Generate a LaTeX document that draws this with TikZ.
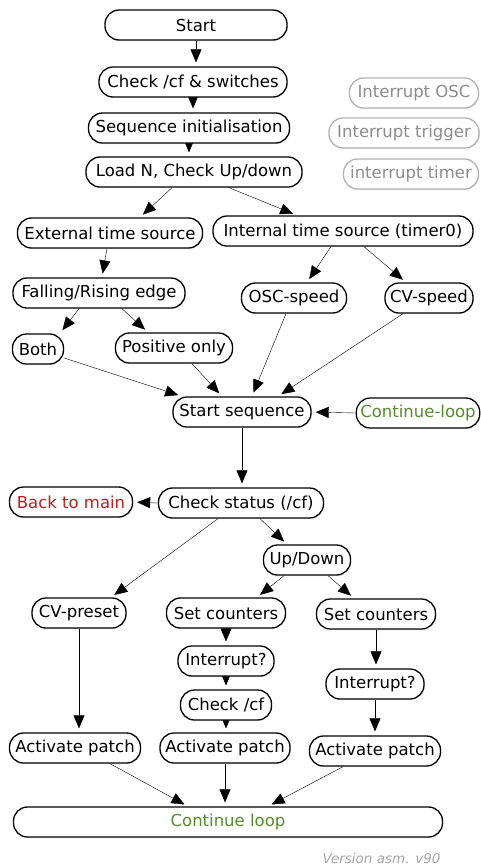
\documentclass[tikz,border=0pt]{standalone}
\usepackage{fontspec}
\setmainfont{DejaVu Sans}
\usetikzlibrary{arrows.meta, shadows, backgrounds}

\definecolor{loopgreen}{RGB}{86,140,46}
\definecolor{mainred}{RGB}{190,30,30}

\tikzset{
	blk/.style = {draw, line width=1.3pt, fill=white, rounded corners=14pt, minimum height=30pt, inner xsep=4pt,
		font=\fontsize{16.5}{18}\selectfont, drop shadow={opacity=0.12, shadow xshift=0.8pt, shadow yshift=-1.2pt}},
	irq/.style = {blk, draw=black!30, text=black!45},
	arr/.style = {-{Triangle[length=13pt, width=11pt]}, line width=1.5pt, shorten >=4pt},
}

\begin{document}
\begin{tikzpicture}[x=1pt, y=-1pt]
			\useasboundingbox (0,0) rectangle (481,868);
			
			\node[blk, minimum width=182pt] (start) at (196,25) {Start};
			\node[blk, minimum width=188pt] (chk) at (193,82) {Check /cf \& switches};
			\node[blk, minimum width=201pt] (init) at (189,128) {Sequence initialisation};
			\node[blk, minimum width=216pt] (loadn) at (194,172) {Load N, Check Up/down};
			
			\node[irq, minimum width=129pt] (iosc) at (414,93) {Interrupt OSC};
			\node[irq, minimum width=150pt] (itrig) at (404,133) {Interrupt trigger};
			\node[irq, minimum width=135pt] (itim) at (411,174) {interrupt timer};
			
			\node[blk, minimum width=185pt] (ext) at (110,233) {External time source};
			\node[blk, minimum width=260pt] (int) at (343,231) {Internal time source (timer0)};
			\node[blk, minimum width=172pt] (edge) at (99,293) {Falling/Rising edge};
			\node[blk, minimum width=105pt] (osc) at (294,298) {OSC-speed};
			\node[blk, minimum width=88pt] (cvs) at (429,298) {CV-speed};
			\node[blk, minimum width=51pt] (both) at (38,349) {Both};
			\node[blk, minimum width=117pt] (pos) at (174,348) {Positive only};
			
			\node[blk, minimum width=138pt] (seq) at (242,412) {Start sequence};
			\node[blk, minimum width=123pt, text=loopgreen] (cloop) at (418,413) {Continue-loop};
			
			\node[blk, minimum width=123pt, text=mainred] (back) at (71,502) {Back to main};
			\node[blk, minimum width=165pt] (stat) at (241,503) {Check status (/cf)};
			\node[blk, minimum width=87pt] (ud) at (307,560) {Up/Down};
			\node[blk, minimum width=94pt] (cvp) at (79,613) {CV-preset};
			\node[blk, minimum width=119pt] (setm) at (226,613) {Set counters};
			\node[blk, minimum width=119pt] (setr) at (376,614) {Set counters};
			\node[blk, minimum width=96pt] (intm) at (226,661) {Interrupt?};
			\node[blk, minimum width=91pt] (chkcf) at (226,705) {Check /cf};
			\node[blk, minimum width=98pt] (intr) at (375,684) {Interrupt?};
			\node[blk, minimum width=131pt] (actl) at (75,748) {Activate patch};
			\node[blk, minimum width=130pt] (actm) at (225,748) {Activate patch};
			\node[blk, minimum width=131pt] (actr) at (375,751) {Activate patch};
			\node[blk, minimum width=429pt, text=loopgreen] (cont) at (228,822) {Continue loop};
			
			\node[anchor=east, text=black!35, font=\fontsize{13.5}{15}\selectfont\itshape] (ver) at (444,858) {Version asm. v90};
			
			\begin{scope}[on background layer, arr]
				\draw (start.south) -- (start.south |- chk.north);
				\draw (chk.south) -- (chk.south |- init.north);
				\draw (init.south) -- (init.south |- loadn.north);
				\draw ([xshift=-22pt]loadn.south) -- ([xshift=30pt]ext.north);
				\draw ([xshift=35pt]loadn.south) -- ([xshift=-46pt]int.north);
				\draw ([xshift=-3pt]ext.south) -- ([xshift=3pt]edge.north);
				\draw ([xshift=-12pt]int.south) -- ([xshift=13pt]osc.north);
				\draw ([xshift=21pt]int.south) -- ([xshift=-23pt]cvs.north);
				\draw ([xshift=-20pt]edge.south) -- ([xshift=22pt]both.north);
				\draw ([xshift=23pt]edge.south) -- ([xshift=-26pt]pos.north);
				\draw ([yshift=-9pt]both.east) -- ([xshift=-60pt]seq.north);
				\draw ([xshift=18pt]pos.south) -- ([xshift=-20pt]seq.north);
				\draw ([xshift=-8pt]osc.south) -- ([xshift=10pt]seq.north);
				\draw ([xshift=-26pt]cvs.south) -- ([xshift=36pt]seq.north);
				\draw (cloop.west) -- (seq.east);
				\draw (seq.south) -- (seq.south |- stat.north);
				\draw (stat.west) -- (back.east);
				\draw ([xshift=19pt]stat.south) -- ([xshift=-20pt]ud.north);
				\draw ([xshift=-23pt]stat.south) -- ([xshift=32pt]cvp.north);
				\draw ([xshift=-23pt]ud.south) -- ([xshift=31pt]setm.north);
				\draw ([xshift=21pt]ud.south) -- ([xshift=-22pt]setr.north);
				\draw (setm.south) -- (setm.south |- intm.north);
				\draw (intm.south) -- (intm.south |- chkcf.north);
				\draw (chkcf.south) -- (chkcf.south |- actm.north);
				\draw (setr.south) -- (setr.south |- intr.north);
				\draw (intr.south) -- (intr.south |- actr.north);
				\draw (cvp.south) -- (cvp.south |- actl.north);
				\draw ([xshift=35pt]actl.south) -- ([xshift=-40pt]cont.north);
				\draw (actm.south) -- (actm.south |- cont.north);
				\draw ([xshift=-32pt]actr.south) -- ([xshift=40pt]cont.north);
			\end{scope}
		\end{tikzpicture}
\end{document}
